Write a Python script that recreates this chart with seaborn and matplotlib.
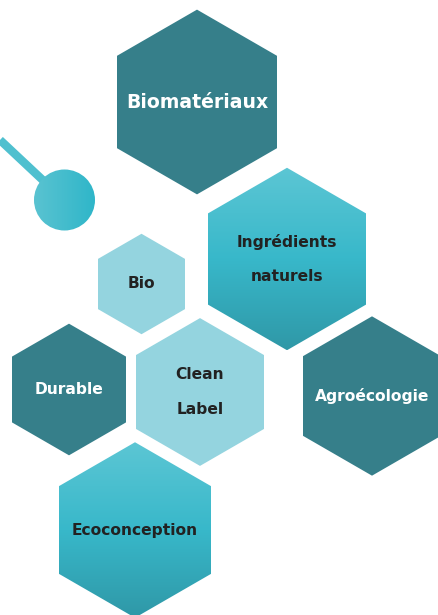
import numpy as np
import matplotlib
matplotlib.use("Agg")
import matplotlib.pyplot as plt
import seaborn as sns
from matplotlib.patches import Polygon, Circle
from matplotlib.colors import LinearSegmentedColormap

# ---- data ----
labels = ["Biomatériaux", "Ingrédients\nnaturels", "Bio", "Durable",
          "Clean\nLabel", "Agroécologie", "Ecoconception"]
kinds = ["dark", "grad", "light", "dark", "light", "dark", "grad"]

# ---- layout (pixel coordinates, y downwards) ----
cx = [197, 287, 141.5, 69, 200, 372, 135]
cy = [102, 259, 284, 389.5, 392, 396, 530]
hw = [80, 79, 43.5, 57, 64, 69, 76]
fsizes = [13.6, 11.2, 11.2, 11.2, 11.2, 11.2, 11.2]

DARK = "#367f8a"
LIGHT = "#94d4df"
grad_cmap = LinearSegmentedColormap.from_list(
    "g", ["#5cc6d4", "#38b8ca", "#2f98a7"])
circ_cmap = LinearSegmentedColormap.from_list("c", ["#5ac3d1", "#2fb6c9"])

sns.set_theme(style="white")
plt.rcParams['font.family'] = ['DejaVu Sans']

W, H = 438, 615
fig = plt.figure(figsize=(W / 100, H / 100), dpi=100)
ax = fig.add_axes([0, 0, 1, 1])
ax.set_axis_off()

# connector line and circle
line_x = [0, 64]
line_y = [140, 200]
sns.lineplot(x=line_x, y=line_y, ax=ax, color="#4fc0cf", linewidth=6,
             solid_capstyle="butt", zorder=1)
circ = Circle((64.5, 200), 30.5, facecolor="none", edgecolor="none")
ax.add_patch(circ)
grad_h = np.linspace(0, 1, 256)[None, :]
im = ax.imshow(grad_h, cmap=circ_cmap, extent=(34, 95, 231, 169),
               origin="upper", aspect="auto", zorder=2, interpolation="bilinear")
im.set_clip_path(circ)

for lab, k, x, y, w, fs in zip(labels, kinds, cx, cy, hw, fsizes):
    h = w * 2 / np.sqrt(3)
    verts = [(x, y - h), (x + w, y - h / 2), (x + w, y + h / 2),
             (x, y + h), (x - w, y + h / 2), (x - w, y - h / 2)]
    if k == "grad":
        poly = Polygon(verts, closed=True, facecolor="none", edgecolor="none")
        ax.add_patch(poly)
        g = np.linspace(0, 1, 256)[:, None]
        im = ax.imshow(g, cmap=grad_cmap, extent=(x - w, x + w, y + h, y - h),
                       origin="upper", aspect="auto", zorder=3,
                       interpolation="bilinear")
        im.set_clip_path(poly)
    else:
        poly = Polygon(verts, closed=True,
                       facecolor=DARK if k == "dark" else LIGHT,
                       edgecolor="none", zorder=3)
        ax.add_patch(poly)
    tcol = "white" if k == "dark" else "#222222"
    lines = lab.split("\n")
    n = len(lines)
    for i, t in enumerate(lines):
        ty = y + (i - (n - 1) / 2) * 35
        ax.text(x, ty, t, ha="center", va="center", fontsize=fs,
                fontweight="bold", color=tcol, zorder=5)

ax.set_xlim(0, W)
ax.set_ylim(H, 0)
fig.savefig("out.png", dpi=100, facecolor="white")
